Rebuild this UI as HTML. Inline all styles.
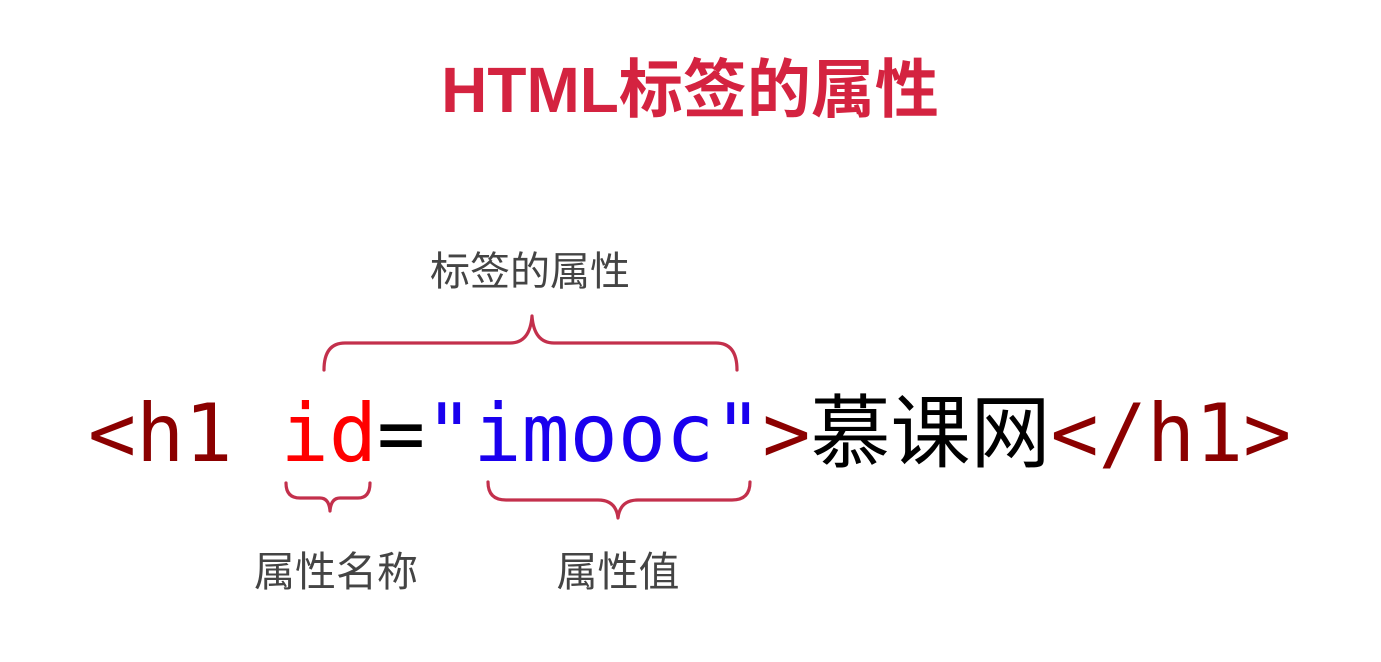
<!DOCTYPE html>
<html><head><meta charset="utf-8"><style>
html,body{margin:0;padding:0;background:#fff;width:1381px;height:662px;overflow:hidden}
</style></head><body>
<svg width="1381" height="662" xmlns="http://www.w3.org/2000/svg">
<text x="690" y="112" text-anchor="middle" font-family="Liberation Sans, Noto Sans CJK SC, sans-serif" font-weight="bold" font-size="64" fill="#d42340">HTML标签的属性</text>
<text x="530" y="285" text-anchor="middle" font-family="Liberation Sans, Noto Sans CJK SC, sans-serif" font-size="40" fill="#444">标签的属性</text>
<text x="336" y="586" text-anchor="middle" font-family="Liberation Sans, Noto Sans CJK SC, sans-serif" font-size="41" fill="#444">属性名称</text>
<text x="618" y="586" text-anchor="middle" font-family="Liberation Sans, Noto Sans CJK SC, sans-serif" font-size="41" fill="#444">属性值</text>
<g fill="none" stroke="#c3304c" stroke-width="3.2" stroke-linecap="round" stroke-linejoin="round">
<path d="M324 370 Q324 343 345 343 L510 343 Q530 343 532 316 Q534 343 554 343 L716 343 Q737 343 737 370"/>
<path d="M286 483 Q286 498 300 498 L320 498 Q329 498 330 511 Q331 498 340 498 L358 498 Q370 498 370 483"/>
<path d="M488 482 Q488 500 506 500 L598 500 Q616 500 618 518 Q620 500 638 500 L732 500 Q750 500 750 482"/>
</g>
<text x="88" y="461" font-family="DejaVu Sans Mono, Liberation Mono, Noto Sans CJK SC, monospace" font-size="80" xml:space="preserve"><tspan fill="#8b0000">&lt;h1 </tspan><tspan fill="#ff0000">id</tspan><tspan fill="#000">=</tspan><tspan fill="#1a00ee">"imooc"</tspan><tspan fill="#8b0000">&gt;</tspan><tspan fill="#000" font-family="Noto Sans CJK SC, sans-serif">慕课网</tspan><tspan fill="#8b0000">&lt;/h1&gt;</tspan></text>
</svg>
</body></html>
